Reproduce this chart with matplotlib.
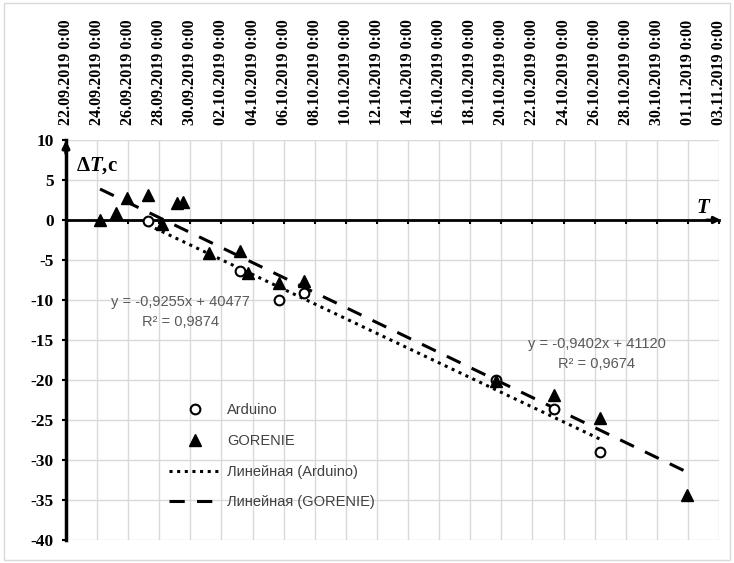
import numpy as np
import pandas as pd
import matplotlib
matplotlib.use('Agg')
import matplotlib.pyplot as plt
import matplotlib.dates as mdates
from matplotlib.patches import Rectangle

# data
arduino_t = ['2019-09-27 06:30', '2019-10-03 05:00', '2019-10-05 17:00', '2019-10-07 07:30',
             '2019-10-19 15:30', '2019-10-23 09:00', '2019-10-26 08:00']
arduino_dt = [-0.1, -6.4, -10.0, -9.1, -20.0, -23.6, -29.0]

gorenie_t = ['2019-09-24 04:30', '2019-09-25 05:00', '2019-09-25 22:00', '2019-09-27 06:30',
             '2019-09-28 04:00', '2019-09-29 03:30', '2019-09-29 12:30', '2019-10-01 05:00',
             '2019-10-03 04:30', '2019-10-03 17:00', '2019-10-05 17:00', '2019-10-07 07:30',
             '2019-10-19 15:30', '2019-10-23 09:00', '2019-10-26 08:00', '2019-10-31 22:30']
gorenie_dt = [0.0, 0.9, 2.75, 3.1, -0.5, 2.1, 2.2, -4.1, -3.9, -6.6, -7.9, -7.6,
              -20.1, -21.9, -24.7, -34.4]

eq_arduino = 'y = -0,9255x + 40477\nR² = 0,9874'
eq_gorenie = 'y = -0,9402x + 41120\nR² = 0,9674'

x_start, x_end = '2019-09-22', '2019-11-03'
tick_dates = pd.date_range(x_start, x_end, freq='2D')

xa = mdates.date2num(pd.to_datetime(arduino_t))
xg = mdates.date2num(pd.to_datetime(gorenie_t))
xmin = mdates.date2num(pd.Timestamp(x_start))
xmax = mdates.date2num(pd.Timestamp(x_end))

plt.rcParams['axes.unicode_minus'] = False
plt.rcParams['mathtext.fontset'] = 'custom'
plt.rcParams['mathtext.rm'] = 'Liberation Serif:bold'
plt.rcParams['mathtext.it'] = 'Liberation Serif:bold:italic'

fig = plt.figure(figsize=(7.34, 5.63), dpi=100)
fig.patches.append(Rectangle((0.006, 0.005), 0.988, 0.99, transform=fig.transFigure,
                             fill=False, edgecolor='#d9d9d9', lw=1))
ax = fig.add_axes([66 / 734, 1 - 540 / 563, 653 / 734, 400 / 563])

ax.set_xlim(xmin, xmax)
ax.set_ylim(-40, 10)
ax.set_xticks(mdates.date2num(tick_dates))
ax.xaxis.set_major_formatter(mdates.DateFormatter('%d.%m.%Y 0:00'))
ax.set_yticks(np.arange(-40, 11, 5))
ax.grid(True, color='#d9d9d9', lw=1)
ax.set_axisbelow(True)

for s in ['top', 'right']:
    ax.spines[s].set_visible(False)
ax.spines['bottom'].set_position(('data', 0))
ax.spines['left'].set_position(('data', xmin))
ax.spines['bottom'].set_linewidth(2)
ax.spines['left'].set_linewidth(2.5)

ax.tick_params(axis='x', bottom=True, top=False, labelbottom=False, labeltop=True,
               direction='out', length=3, width=1.5, labelrotation=90, pad=8)
ax.tick_params(axis='y', direction='out', length=3, width=1.5, pad=6)
for lab in ax.get_xticklabels():
    lab.set_fontfamily('Liberation Serif')
    lab.set_fontweight('bold')
    lab.set_fontsize(11.5)
for lab in ax.get_yticklabels():
    lab.set_fontfamily('Liberation Serif')
    lab.set_fontweight('bold')
    lab.set_fontsize(12.5)

# arrow heads on the axes
ax.annotate('', xy=(xmax + 0.3, 0), xytext=(xmax - 1, 0),
            arrowprops=dict(arrowstyle='-|>', color='black', lw=2, mutation_scale=10),
            annotation_clip=False)
ax.annotate('', xy=(xmin, 10.3), xytext=(xmin, 8),
            arrowprops=dict(arrowstyle='-|>', color='black', lw=2.5, mutation_scale=10),
            annotation_clip=False)

# trend lines
ka, ba = np.polyfit(xa, arduino_dt, 1)
kg, bg = np.polyfit(xg, gorenie_dt, 1)
ta = np.array([xa.min(), xa.max()])
tg = np.array([xg.min(), xg.max()])

ax.plot(xa, arduino_dt, 'o', ms=7, mfc='white', mec='black', mew=1.5, label='Arduino', zorder=4)
ax.plot(xg, gorenie_dt, '^', ms=8, color='black', label='GORENIE', zorder=4)
ax.plot(ta, ka * ta + ba, ls=(0, (1, 1.5)), color='black', lw=2.2,
        label='Линейная (Arduino)', zorder=3)
ax.plot(tg, kg * tg + bg, ls=(0, (5, 4)), color='black', lw=2.2,
        label='Линейная (GORENIE)', zorder=3)

ax.text(0.175, 0.57, eq_arduino, transform=ax.transAxes, ha='center', va='center',
        color='#595959', fontsize=10.5, family='Liberation Sans', linespacing=1.6)
ax.text(0.813, 0.465, eq_gorenie, transform=ax.transAxes, ha='center', va='center',
        color='#595959', fontsize=10.5, family='Liberation Sans', linespacing=1.6)

ax.text(0.015, 0.935, r'$\mathrm{\Delta}T$,c', transform=ax.transAxes, fontsize=15,
        fontweight='bold', family='Liberation Serif', va='center')
ax.text(0.975, 0.83, 'T', transform=ax.transAxes, fontsize=15, fontweight='bold',
        style='italic', family='Liberation Serif', va='center', ha='center')

leg = ax.legend(loc='upper left', bbox_to_anchor=(0.137, 0.375), frameon=False,
                labelspacing=1.15, handlelength=3.6, handletextpad=0.4,
                prop={'family': 'Liberation Sans', 'size': 10.5})
for t in leg.get_texts():
    t.set_color('#404040')

fig.savefig('out.png', dpi=100)
